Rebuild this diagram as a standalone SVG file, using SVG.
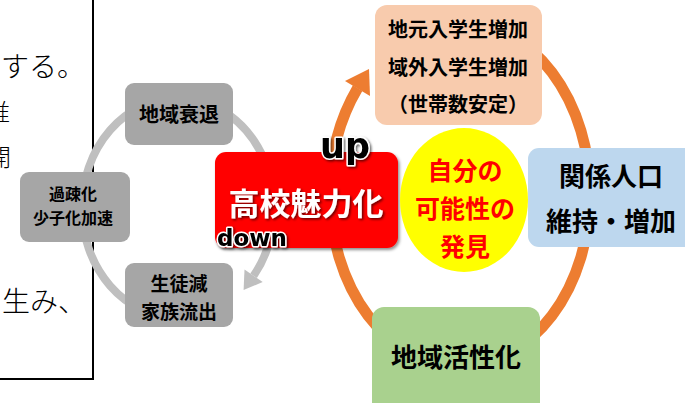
<svg xmlns="http://www.w3.org/2000/svg" width="685" height="403" viewBox="0 0 685 403">
<style>
.jp{font-family:"Noto Sans CJK JP","Noto Sans",sans-serif;}
.b{font-weight:700;}
.gbox{fill:#a6a6a6;}
.lbl{fill:#000;text-anchor:middle;}
.ring-g{fill:none;stroke:#bfbfbf;stroke-width:8;}
.ring-o{fill:none;stroke:#ed7d31;stroke-width:11;}
.halo{paint-order:stroke;stroke:#fff;stroke-width:3;stroke-linejoin:round;}
</style>
<defs>
<filter id="sh" x="-10%" y="-10%" width="130%" height="130%">
<feDropShadow dx="1.5" dy="2" stdDeviation="1.5" flood-color="#000" flood-opacity="0.45"/>
</filter>
<filter id="tsh" x="-10%" y="-10%" width="130%" height="140%">
<feDropShadow dx="1.5" dy="1.5" stdDeviation="1" flood-color="#000" flood-opacity="0.6"/>
</filter>
</defs>

<g id="textbox">
<rect x="-10" y="-10" width="103" height="389" fill="#fff" stroke="#000" stroke-width="2"/>
<text class="jp" x="85" y="77" font-size="28" font-weight="300" text-anchor="end" fill="#000">する。</text>
<text class="jp" x="10" y="121" font-size="24" font-weight="300" text-anchor="end" fill="#000">推</text>
<text class="jp" x="11" y="166" font-size="24" font-weight="300" text-anchor="end" fill="#000">開</text>
<text class="jp" x="86" y="312" font-size="28" font-weight="300" text-anchor="end" fill="#000">生み、</text>
</g>

<g id="connectors">
<path class="ring-g" d="M178,318 A96,110 0 0 1 82,208 A96,110 0 0 1 178,98 A96,110 0 0 1 253.6,275.8"/>
<polygon points="262.7,282 244.5,269.6 243.6,290" fill="#bfbfbf"/>
<path class="ring-o" d="M460,22 A130,172 0 0 1 590,194 A130,172 0 0 1 460,366 A130,172 0 0 1 330,194 A130,172 0 0 1 357.6,88.1"/>
<polygon points="370,96 345,81 369,69" fill="#ed7d31"/>
</g>

<g id="node-chiiki-suitai">
<rect class="gbox" x="125" y="83" width="108" height="62" rx="9"/>
<text class="jp b lbl" x="179" y="122" font-size="20">地域衰退</text>
</g>
<g id="node-kasoka">
<rect class="gbox" x="20" y="172" width="110" height="70" rx="9"/>
<text class="jp b lbl" x="73" y="200" font-size="16">過疎化</text>
<text class="jp b lbl" x="73" y="224" font-size="16">少子化加速</text>
</g>
<g id="node-seitogen">
<rect class="gbox" x="125" y="263" width="108" height="64" rx="9"/>
<text class="jp b lbl" x="179" y="291" font-size="19">生徒減</text>
<text class="jp b lbl" x="179" y="319" font-size="19">家族流出</text>
</g>

<g id="node-koukou">
<rect x="215" y="152" width="183" height="96" rx="11" fill="#ff0000" filter="url(#sh)"/>
<text class="jp b" x="306" y="215" font-size="31" fill="#fff" text-anchor="middle" filter="url(#tsh)">高校魅力化</text>
</g>

<g id="node-nyugaku">
<rect x="375" y="5" width="167" height="120" rx="12" fill="#f8cbad"/>
<text class="jp b lbl" x="458" y="37" font-size="20">地元入学生増加</text>
<text class="jp b lbl" x="458" y="75" font-size="20">域外入学生増加</text>
<text class="jp b lbl" x="458" y="112" font-size="20">（世帯数安定）</text>
</g>

<g id="node-kanousei">
<ellipse cx="464" cy="200" rx="64" ry="72" fill="#ffff00"/>
<text class="jp b" x="465" y="180" font-size="25" fill="#ff0000" text-anchor="middle">自分の</text>
<text class="jp b" x="465" y="218" font-size="25" fill="#ff0000" text-anchor="middle">可能性の</text>
<text class="jp b" x="465" y="256" font-size="25" fill="#ff0000" text-anchor="middle">発見</text>
</g>

<g id="node-kankei">
<rect x="528" y="148" width="170" height="99" rx="11" fill="#bdd7ee"/>
<text class="jp b lbl" x="611" y="186" font-size="26">関係人口</text>
<text class="jp b lbl" x="611" y="231" font-size="26">維持・増加</text>
</g>

<g id="node-kasseika">
<rect x="372" y="307" width="168" height="110" rx="12" fill="#a9d18e"/>
<text class="jp b lbl" x="456" y="367" font-size="26">地域活性化</text>
</g>

<g id="labels">
<text x="345" y="158" font-family="DejaVu Sans,sans-serif" font-weight="700" font-size="35" fill="#000" text-anchor="middle" class="halo" filter="url(#tsh)">up</text>
<text x="252" y="246" font-family="DejaVu Sans,sans-serif" font-weight="700" font-size="23" fill="#000" text-anchor="middle" class="halo" filter="url(#tsh)">down</text>
</g>
</svg>
